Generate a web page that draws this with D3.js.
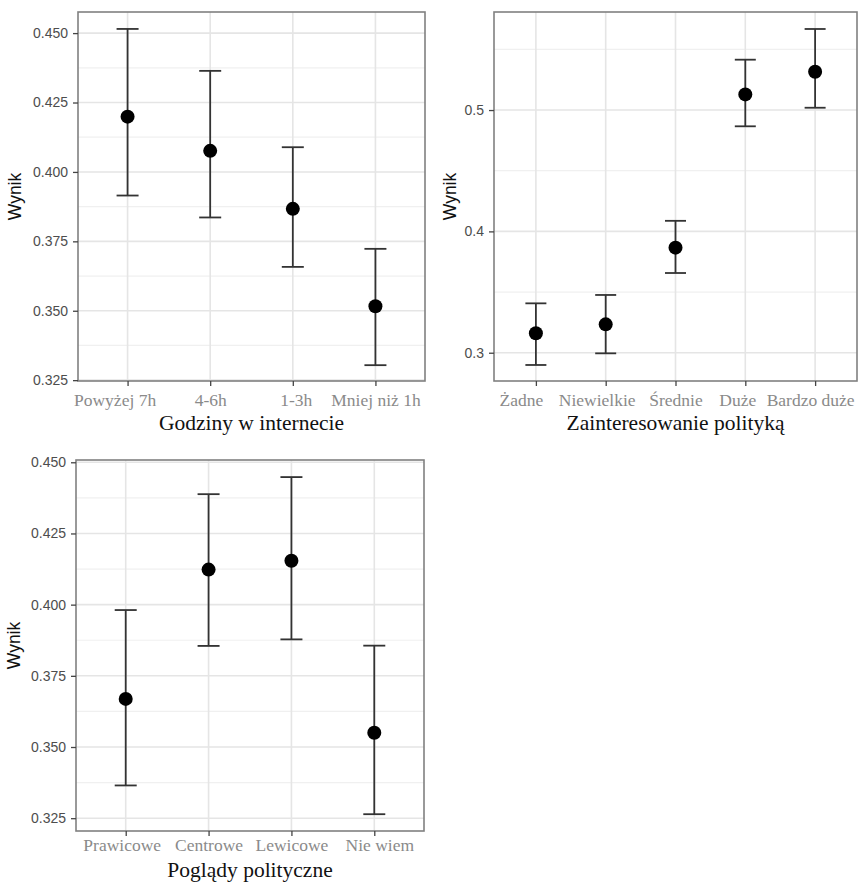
<!DOCTYPE html>
<html>
<head>
<meta charset="utf-8">
<script src="https://cdn.jsdelivr.net/npm/d3@7"></script>
<style>
body { margin: 0; background: #fff; }
svg { display: block; }
</style>
</head>
<body>
<svg id="chart" width="859" height="882"></svg>
<script>
// ---- Data ----
const hoursCategories = ["Powyżej 7h", "4-6h", "1-3h", "Mniej niż 1h"];
const hoursMean  = [0.4199, 0.4076, 0.3867, 0.3516];
const hoursLower = [0.3915, 0.3836, 0.3658, 0.3304];
const hoursUpper = [0.4515, 0.4364, 0.4089, 0.3723];
const hoursTicks = [0.325, 0.350, 0.375, 0.400, 0.425, 0.450];

const interestCategories = ["Żadne", "Niewielkie", "Średnie", "Duże", "Bardzo duże"];
const interestMean  = [0.316, 0.3234, 0.3866, 0.5129, 0.5316];
const interestLower = [0.2899, 0.2995, 0.3657, 0.4866, 0.5019];
const interestUpper = [0.3407, 0.3476, 0.4087, 0.5415, 0.5668];
const interestTicks = [0.3, 0.4, 0.5];

const viewsCategories = ["Prawicowe", "Centrowe", "Lewicowe", "Nie wiem"];
const viewsMean  = [0.3669, 0.4123, 0.4154, 0.355];
const viewsLower = [0.3365, 0.3855, 0.3878, 0.3264];
const viewsUpper = [0.3981, 0.4388, 0.4448, 0.3856];
const viewsTicks = [0.325, 0.350, 0.375, 0.400, 0.425, 0.450];

const yTitle = "Wynik";

const svg = d3.select("#chart");

function panel(cfg) {
  const g = svg.append("g");
  const x = d3.scalePoint().domain(cfg.cats).range([cfg.left, cfg.right]).padding(0.6);
  const y = d3.scaleLinear().domain(cfg.domain).range([cfg.bottom, cfg.top]);

  // minor gridlines
  const step = cfg.ticks[1] - cfg.ticks[0];
  const minor = [];
  for (let i = -1; i < cfg.ticks.length; i++) {
    const v = cfg.ticks[0] + step * (i + 0.5);
    if (v > cfg.domain[0] && v < cfg.domain[1]) minor.push(v);
  }
  g.selectAll(".minor").data(minor).enter().append("line")
    .attr("x1", cfg.left).attr("x2", cfg.right)
    .attr("y1", d => y(d)).attr("y2", d => y(d))
    .attr("stroke", "#f0f0f0").attr("stroke-width", 1.2);
  // major gridlines
  g.selectAll(".majy").data(cfg.ticks).enter().append("line")
    .attr("x1", cfg.left).attr("x2", cfg.right)
    .attr("y1", d => y(d)).attr("y2", d => y(d))
    .attr("stroke", "#e5e5e5").attr("stroke-width", 1.6);
  g.selectAll(".majx").data(cfg.cats).enter().append("line")
    .attr("x1", d => x(d)).attr("x2", d => x(d))
    .attr("y1", cfg.top).attr("y2", cfg.bottom)
    .attr("stroke", "#e5e5e5").attr("stroke-width", 1.6);

  // error bars
  const rows = cfg.cats.map((c, i) => ({c, m: cfg.mean[i], lo: cfg.lower[i], hi: cfg.upper[i]}));
  const eb = g.selectAll(".eb").data(rows).enter().append("g").attr("stroke", "#333").attr("stroke-width", 1.8);
  eb.append("line").attr("x1", d => x(d.c)).attr("x2", d => x(d.c)).attr("y1", d => y(d.lo)).attr("y2", d => y(d.hi));
  eb.append("line").attr("x1", d => x(d.c) - cfg.cap).attr("x2", d => x(d.c) + cfg.cap).attr("y1", d => y(d.lo)).attr("y2", d => y(d.lo));
  eb.append("line").attr("x1", d => x(d.c) - cfg.cap).attr("x2", d => x(d.c) + cfg.cap).attr("y1", d => y(d.hi)).attr("y2", d => y(d.hi));
  g.selectAll(".pt").data(rows).enter().append("circle")
    .attr("cx", d => x(d.c)).attr("cy", d => y(d.m)).attr("r", 7).attr("fill", "#000");

  // border
  g.append("rect").attr("x", cfg.left).attr("y", cfg.top)
    .attr("width", cfg.right - cfg.left).attr("height", cfg.bottom - cfg.top)
    .attr("fill", "none").attr("stroke", "#808080").attr("stroke-width", 1.6);

  // y axis
  const ya = g.append("g").attr("transform", `translate(${cfg.left},0)`)
    .call(d3.axisLeft(y).tickValues(cfg.ticks).tickSize(5).tickPadding(5).tickFormat(cfg.fmt));
  ya.select(".domain").remove();
  ya.selectAll(".tick line").attr("stroke", "#444").attr("stroke-width", 1.3);
  ya.selectAll(".tick text").attr("fill", "#4d4d4d").style("font-family", "Liberation Sans, Arial, sans-serif").style("font-size", "14px");

  // x axis
  const xa = g.append("g").attr("transform", `translate(0,${cfg.bottom})`)
    .call(d3.axisBottom(x).tickSize(5).tickPadding(4));
  xa.select(".domain").remove();
  xa.selectAll(".tick line").attr("stroke", "#444").attr("stroke-width", 1.3);
  xa.selectAll(".tick text").attr("fill", "#8a8a8a").attr("dy", null).attr("y", cfg.tickY)
    .attr("dx", d => cfg.nudge[d] || 0)
    .style("font-family", "Liberation Serif, Times New Roman, serif").style("font-size", "17.5px");

  // titles
  g.append("text").attr("x", (cfg.left + cfg.right) / 2).attr("y", cfg.titleY)
    .attr("text-anchor", "middle").attr("fill", "#111")
    .style("font-family", "Liberation Serif, Times New Roman, serif").style("font-size", "21.5px")
    .text(cfg.xTitle);
  g.append("text").attr("transform", `translate(${cfg.yTitleX},${(cfg.top + cfg.bottom) / 2}) rotate(-90)`)
    .attr("text-anchor", "middle").attr("fill", "#111")
    .style("font-family", "Liberation Sans, Arial, sans-serif").style("font-size", "17.5px")
    .text(yTitle);
}

panel({cats: hoursCategories, mean: hoursMean, lower: hoursLower, upper: hoursUpper,
  ticks: hoursTicks, fmt: d3.format(".3f"), domain: [0.3247, 0.4576], cap: 11,
  left: 78, right: 425, top: 12, bottom: 381, xTitle: "Godziny w internecie", tickY: 25, titleY: 430, yTitleX: 21,
  nudge: {"Powyżej 7h": -13, "1-3h": 3}});
panel({cats: interestCategories, mean: interestMean, lower: interestLower, upper: interestUpper,
  ticks: interestTicks, fmt: d3.format(".1f"), domain: [0.2767, 0.5808], cap: 10.5,
  left: 494, right: 857, top: 12, bottom: 381, xTitle: "Zainteresowanie polityką", tickY: 25, titleY: 430, yTitleX: 456,
  nudge: {"Żadne": -15, "Niewielkie": -9, "Duże": -8, "Bardzo duże": -5}});
panel({cats: viewsCategories, mean: viewsMean, lower: viewsLower, upper: viewsUpper,
  ticks: viewsTicks, fmt: d3.format(".3f"), domain: [0.3205, 0.4508], cap: 11,
  left: 76, right: 424, top: 460, bottom: 831, xTitle: "Poglądy polityczne", tickY: 20, titleY: 877, yTitleX: 20,
  nudge: {"Prawicowe": -4, "Nie wiem": 5}});
</script>
</body>
</html>
